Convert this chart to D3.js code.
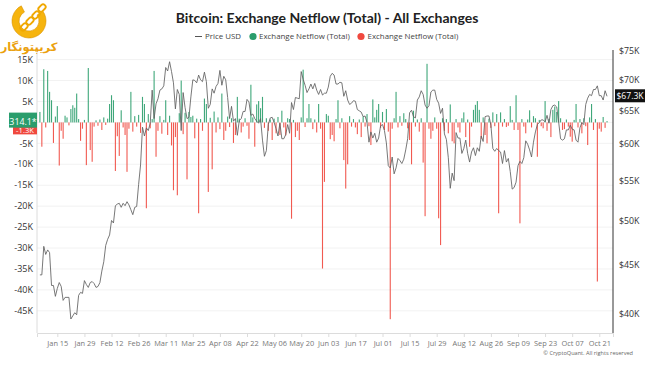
<!DOCTYPE html>
<html><head><meta charset="utf-8">
<script src="https://cdn.jsdelivr.net/npm/d3@7"></script>
<style>body{margin:0;background:#fff;} svg{display:block;font-family:"Open Sans",sans-serif;}</style>
</head><body><svg id="c" width="650" height="365"></svg>
<script>
// ---------- DATA ----------
const startDate = "2024-01-06"; // one value per day
const netflowK = [
 2.5,-5.8,12.7,-1.2,12.3,7.3,5.3,-4.9,1.4,3.9,
 -10.3,-2.0,-3.9,1.6,1.2,-0.7,3.2,4.1,3.5,6.9,
 0.8,-4.4,-1.5,0.6,-10.2,13.0,-6.6,-9.4,-1.0,0.5,
 -0.8,0.7,-1.8,1.2,-0.6,0.9,4.4,6.5,5.3,-11.6,
 -3.3,-8.0,2.9,-1.2,-3.0,-11.8,-1.5,7.3,-2.2,1.5,
 -1.0,1.8,-2.5,6.1,4.4,-20.5,2.0,-1.4,0.8,12.3,
 -8.2,-2.0,1.5,-2.7,0.6,5.3,-3.0,1.6,-5.5,-16.2,
 -3.5,-17.4,2.2,10.0,-2.8,2.3,-13.6,2.5,1.3,1.6,
 -3.8,0.9,-21.7,0.8,-2.0,5.7,4.4,-16.6,1.1,-11.2,
 2.6,-2.4,1.2,-1.6,6.9,-4.2,-2.0,1.4,-1.1,1.0,
 -4.9,-3.0,6.1,0.9,-2.4,-1.0,1.0,-0.8,-3.9,9.0,
 1.2,-5.8,4.3,5.1,3.4,6.1,-1.3,1.0,-2.0,0.7,
 -4.2,0.9,-2.6,1.3,-3.0,2.8,-1.2,-3.1,1.0,0.8,
 -23.0,0.6,-3.5,-2.0,-4.2,1.2,12.6,-1.1,1.0,4.4,
 1.0,-1.6,0.7,-2.4,4.4,-1.5,-34.9,-14.2,2.0,1.6,
 -4.0,-3.0,-4.5,0.8,5.3,-1.4,1.0,-9.0,-15.8,-10.0,
 1.5,-1.0,0.8,-1.2,-2.8,0.7,-3.5,1.4,-1.0,2.0,
 -0.9,-5.4,5.5,1.2,3.0,4.4,-1.3,2.5,-1.8,3.2,
 -2.2,-47.0,-1.5,1.0,7.3,-1.2,1.5,-0.8,2.2,0.8,
 -1.4,-4.2,-10.0,2.8,-1.0,0.7,-2.2,1.0,-9.6,-22.4,
 14.0,-1.5,-3.9,-2.0,1.2,-1.5,-22.9,-29.3,1.0,-2.0,
 0.8,-2.6,4.3,-4.5,-5.0,0.8,-1.2,-2.4,1.0,2.4,
 -3.5,0.7,-5.8,-1.0,3.0,4.2,5.1,3.0,-3.9,1.2,
 -3.0,-5.0,0.9,-1.3,2.4,-0.9,2.0,-21.7,2.4,-1.0,
 0.8,-1.1,-0.8,3.9,0.6,-1.8,6.5,-1.8,-24.1,0.8,
 -1.0,-2.6,0.7,2.9,-1.2,1.5,1.0,-8.2,0.6,-0.9,
 -1.4,5.1,-2.0,0.8,-3.5,3.0,3.8,2.5,5.1,1.0,
 -1.8,-1.6,0.7,-1.0,-3.4,-4.6,0.6,4.4,-1.2,0.8,
 -2.6,1.0,-0.9,-5.4,1.2,4.4,-1.8,0.8,-38.0,-1.5,
 -2.2,1.3,-1.3,0.3141
];
const priceK = [
 43.9,43.9,47.0,46.1,46.6,46.3,42.8,42.8,41.7,42.5,43.1,42.7,41.3,41.6,41.6,41.6,39.5,39.8,40.1,39.9,41.8,42.1,42.0,43.3,42.9,42.6,
 43.1,43.2,43.0,42.6,42.7,43.1,44.3,45.3,47.1,47.8,48.3,50.0,49.7,51.8,52.0,52.1,51.6,52.1,51.8,52.3,51.9,51.3,50.7,51.6,51.7,54.5,57.1,62.5,61.2,
 62.4,62.0,63.1,68.3,63.8,66.1,66.9,68.3,68.5,69.0,72.1,71.5,73.1,71.4,69.5,65.3,68.4,67.6,62.0,67.9,65.5,63.8,64.0,67.2,70.0,69.9,69.5,70.8,70.0,69.7,71.3,
 69.7,65.4,66.0,68.5,67.8,68.9,69.4,71.6,69.1,70.6,70.0,67.1,63.8,65.7,63.4,63.8,61.3,63.5,63.8,64.9,64.9,66.8,66.4,64.3,64.5,63.8,63.4,63.1,63.8,60.6,
 58.3,59.1,62.9,63.9,64.0,63.2,62.3,61.2,63.1,60.8,60.8,61.4,62.9,61.6,66.3,65.2,67.1,67.0,66.9,71.4,70.1,69.1,67.9,68.5,69.3,68.5,69.4,68.3,67.6,68.4,67.5,
 67.8,67.8,68.8,70.6,71.1,70.8,69.3,69.3,69.6,69.5,67.3,68.2,66.7,66.0,66.2,66.6,66.5,65.2,65.0,64.8,64.1,64.2,63.2,60.3,61.8,60.9,61.6,60.3,60.9,62.7,
 62.9,62.0,60.2,57.0,56.7,58.2,55.9,56.7,58.0,57.7,57.3,57.9,59.2,60.8,64.7,65.1,64.1,63.9,66.7,67.2,68.2,67.6,65.9,65.4,65.8,68.0,68.3,68.3,66.8,66.2,64.6,
 65.4,61.5,60.7,58.1,54.0,56.0,55.0,61.7,60.9,60.9,58.7,59.4,60.6,58.7,57.5,58.9,59.5,58.4,59.5,59.0,61.2,60.4,64.1,64.2,64.2,62.8,59.4,59.0,59.4,59.1,58.9,
 57.3,59.1,57.5,58.0,56.2,53.9,54.1,54.8,57.0,57.6,57.3,58.1,60.5,60.0,59.2,58.2,60.3,61.8,62.9,63.2,63.6,63.6,63.3,64.3,63.1,65.2,65.8,65.9,65.6,63.3,
 60.8,60.6,60.8,62.1,62.1,62.8,62.2,62.1,60.6,60.3,62.4,63.2,62.9,66.0,67.0,67.6,67.4,68.4,68.4,69.0,67.4,67.4,66.7,68.2,67.3
];
const leftTicks = [15000,10000,5000,0,-5000,-10000,-15000,-20000,-25000,-30000,-35000,-40000,-45000];
const rightTicks = [40000,45000,50000,55000,60000,65000,70000,75000];
const xTickDates = ["2024-01-15","2024-01-29","2024-02-12","2024-02-26","2024-03-11","2024-03-25","2024-04-08","2024-04-22","2024-05-06","2024-05-20","2024-06-03","2024-06-17","2024-07-01","2024-07-15","2024-07-29","2024-08-12","2024-08-26","2024-09-09","2024-09-23","2024-10-07","2024-10-21"];
const titleText = "Bitcoin: Exchange Netflow (Total) - All Exchanges";
const legendItems = ["Price USD","Exchange Netflow (Total)","Exchange Netflow (Total)"];
const lastNetflowPos = "314.1*", lastNetflowNeg = "-1.3K", lastPrice = "$67.3K";

// ---------- CHART ----------
const svg = d3.select("#c");
const L = 37, R = 613, T = 50, B = 333;
const parse = d3.utcParse("%Y-%m-%d");
const start = parse(startDate);
const data = netflowK.map((v,i)=>({date:d3.utcDay.offset(start,i), flow:v*1000, price:priceK[i]*1000}));

const x = d3.scaleUtc().domain([new Date(Date.UTC(2024,0,4,12)), new Date(Date.UTC(2024,9,28,2))]).range([L,R]);
const y = d3.scaleLinear().domain([-50300,17300]).range([B,T]);
const yr = d3.scaleLog().domain([38200,75180]).range([B,T]);

const green = "#2a9d6c", red = "#f0483e";

// gridlines
svg.append("g").selectAll("line").data(leftTicks).join("line")
  .attr("x1",L).attr("x2",R).attr("y1",d=>y(d)).attr("y2",d=>y(d))
  .attr("stroke","#f2f2f2").attr("stroke-width",1);

// bars
svg.append("g").selectAll("rect").data(data).join("rect")
  .attr("x",d=>x(d.date)-0.55).attr("width",1.1)
  .attr("y",d=>d.flow>=0?y(d.flow):y(0))
  .attr("height",d=>Math.abs(y(d.flow)-y(0)))
  .attr("fill",d=>d.flow>=0?green:red).attr("fill-opacity",0.9);

// price line
svg.append("path").datum(data)
  .attr("d",d3.line().x(d=>x(d.date)).y(d=>yr(d.price)))
  .attr("fill","none").attr("stroke","#606060").attr("stroke-width",0.85);

// left axis
svg.append("line").attr("x1",L).attr("x2",L).attr("y1",T).attr("y2",B).attr("stroke","#dcdcdc");
svg.append("g").selectAll("text").data(leftTicks.filter(d=>d!==0)).join("text")
  .attr("x",L-4).attr("y",d=>y(d)).attr("dy","0.35em").attr("text-anchor","end")
  .attr("font-size",9).attr("fill","#333").text(d=>(d/1000)+"K");

// right axis
svg.append("line").attr("x1",R).attr("x2",R).attr("y1",T).attr("y2",B).attr("stroke","#333").attr("stroke-width",1);
svg.append("g").selectAll("text").data(rightTicks).join("text")
  .attr("x",R+6).attr("y",d=>yr(d)).attr("dy","0.35em")
  .attr("font-size",8.8).attr("fill","#333").text(d=>"$"+(d/1000)+"K");

// x axis
const xa = svg.append("g").attr("transform",`translate(0,${B})`)
  .call(d3.axisBottom(x).tickValues(xTickDates.map(parse)).tickFormat(d3.utcFormat("%b %d")).tickSize(4).tickPadding(4));
xa.select(".domain").attr("stroke","#dcdcdc");
xa.selectAll(".tick line").attr("stroke","#dcdcdc");
xa.selectAll(".tick text").attr("fill","#777").attr("font-size",7.4).attr("font-family","Open Sans, sans-serif");

// last-value labels
const lg = svg.append("g");
lg.append("rect").attr("x",13).attr("y",y(-1300)-6.5).attr("width",L-13).attr("height",13).attr("fill",red);
lg.append("text").attr("x",(13+L)/2).attr("y",y(-1300)+5.2).attr("text-anchor","middle").attr("font-size",7.6).attr("fill","#fff").text(lastNetflowNeg);
lg.append("rect").attr("x",9).attr("y",y(314.1)-8.5).attr("width",L-9).attr("height",15).attr("fill",green);
lg.append("text").attr("x",(9+L)/2).attr("y",y(314.1)+0.5).attr("dy","0.35em").attr("text-anchor","middle").attr("font-size",8.8).attr("fill","#fff").text(lastNetflowPos);
lg.append("rect").attr("x",R+2).attr("y",yr(67300)-7).attr("width",30).attr("height",13).attr("fill","#111");
lg.append("text").attr("x",R+17).attr("y",yr(67300)).attr("dy","0.35em").attr("text-anchor","middle").attr("font-size",8.6).attr("fill","#fff").text(lastPrice);

// title
svg.append("text").attr("x",327).attr("y",23).attr("text-anchor","middle")
  .attr("font-family","Lato, sans-serif").attr("font-size",14).attr("font-weight","bold").attr("fill","#222").text(titleText);

// legend
const leg = svg.append("g").attr("font-size",7.9).attr("fill","#444");
leg.append("line").attr("x1",195).attr("x2",202).attr("y1",36.5).attr("y2",36.5).attr("stroke","#555").attr("stroke-width",1);
leg.append("text").attr("x",205).attr("y",36.5).attr("dy","0.35em").text(legendItems[0]);
leg.append("circle").attr("cx",253).attr("cy",36.5).attr("r",3.6).attr("fill",green);
leg.append("text").attr("x",259).attr("y",36.5).attr("dy","0.35em").text(legendItems[1]);
leg.append("circle").attr("cx",361).attr("cy",36.5).attr("r",3.6).attr("fill",red);
leg.append("text").attr("x",367.5).attr("y",36.5).attr("dy","0.35em").text(legendItems[2]);

// footer
svg.append("text").attr("x",633).attr("y",355).attr("text-anchor","end").attr("font-size",5.6).attr("fill","#666").text("© CryptoQuant. All rights reserved");

// logo
const logo = svg.append("g");
const arc = d3.arc().innerRadius(10).outerRadius(17).startAngle(Math.PI*0.3).endAngle(Math.PI*1.85);
logo.append("path").attr("d",arc()).attr("transform","translate(29,21)").attr("fill","#f6b40e").attr("stroke","#d99200").attr("stroke-width",0.6);
[[24,27],[30,21],[36,15],[42,8]].forEach(([cx,cy])=>{
  logo.append("rect").attr("x",cx-4).attr("y",cy-2.5).attr("width",8).attr("height",5).attr("rx",2.2)
    .attr("transform",`rotate(-45,${cx},${cy})`).attr("fill","none").attr("stroke","#f0a800").attr("stroke-width",1.8);
});
logo.append("text").attr("x",29).attr("y",51).attr("text-anchor","middle").attr("font-size",11.5).attr("font-weight","bold")
  .attr("font-family","DejaVu Sans, sans-serif").attr("fill","#eba10f").text("کریپتونگار");
</script></body></html>
